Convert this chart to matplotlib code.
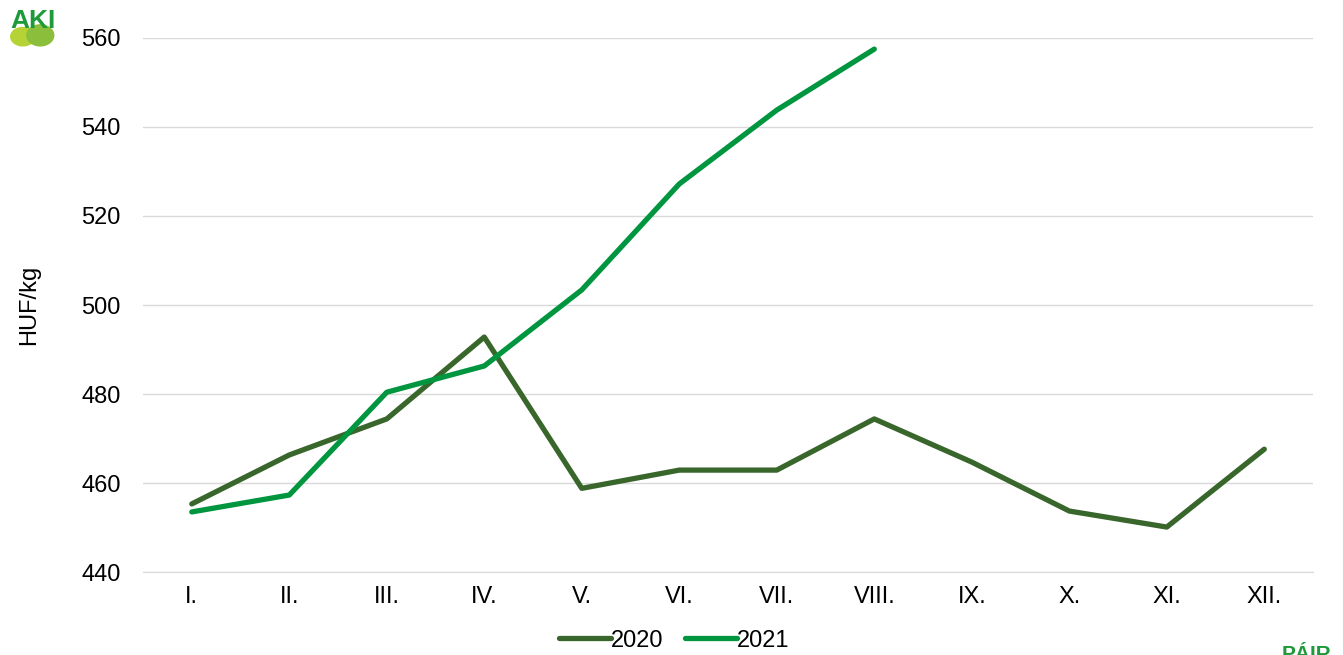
import matplotlib
matplotlib.use("Agg")
import matplotlib.pyplot as plt
from matplotlib.patches import Ellipse

months = ["I.", "II.", "III.", "IV.", "V.", "VI.", "VII.", "VIII.", "IX.", "X.", "XI.", "XII."]
prices_2020 = [455.3, 466.3, 474.4, 492.8, 458.8, 462.9, 462.9, 474.4, 464.7, 453.7, 450.1, 467.6]
prices_2021 = [453.5, 457.3, 480.4, 486.3, 503.4, 527.2, 543.8, 557.5]

color_2020 = '#38662B'
color_2021 = '#00953F'

plt.rcParams['font.family'] = ['Liberation Sans', 'DejaVu Sans']
fs = 17

fig = plt.figure(figsize=(13.43, 6.55), dpi=100)
ax = fig.add_axes([0.1065, 0.1267, 0.8712, 0.8153])

x20 = list(range(len(prices_2020)))
x21 = list(range(len(prices_2021)))
ax.plot(x20, prices_2020, color=color_2020, lw=3.8, solid_joinstyle='round',
        solid_capstyle='round', label='2020', zorder=3)
ax.plot(x21, prices_2021, color=color_2021, lw=3.8, solid_joinstyle='round',
        solid_capstyle='round', label='2021', zorder=4)

ax.set_xlim(-0.5, len(months) - 0.5)
ax.set_ylim(440, 560)
ax.set_yticks(range(440, 561, 20))
ax.set_xticks(range(len(months)))
ax.set_xticklabels(months)
ax.tick_params(axis='both', length=0, labelsize=fs, colors='#000000')
ax.tick_params(axis='x', pad=10)
ax.tick_params(axis='y', pad=16)
ax.grid(axis='y', color='#D9D9D9', lw=1)
ax.set_axisbelow(True)
for side in ['left', 'right', 'top']:
    ax.spines[side].set_visible(False)
ax.spines['bottom'].set_color('#D9D9D9')

ax.set_ylabel('HUF/kg', fontsize=fs, labelpad=30)

handles, labels = ax.get_legend_handles_labels()
fig.legend(handles, labels, loc='center', bbox_to_anchor=(0.502, 0.022), ncol=2,
           frameon=False, fontsize=fs, handlelength=2.2, handletextpad=0.0,
           columnspacing=0.9, borderpad=0.0)

# AKI logo (top left)
fig.patches.append(Ellipse((0.017, 0.944), 0.018, 0.028, transform=fig.transFigure,
                           color='#B5D334', zorder=1))
fig.patches.append(Ellipse((0.030, 0.946), 0.020, 0.032, transform=fig.transFigure,
                           color='#8BBE3A', zorder=1))
fig.text(0.008, 0.950, 'AKI', color='#1E9A3A', fontsize=19, fontweight='bold',
         ha='left', va='bottom', zorder=2)

# partial logo (bottom right)
fig.text(0.954, -0.014, 'PÁIR', color='#1E9A3A', fontsize=15, fontweight='bold',
         ha='left', va='bottom')

fig.savefig('out.png', dpi=100)
